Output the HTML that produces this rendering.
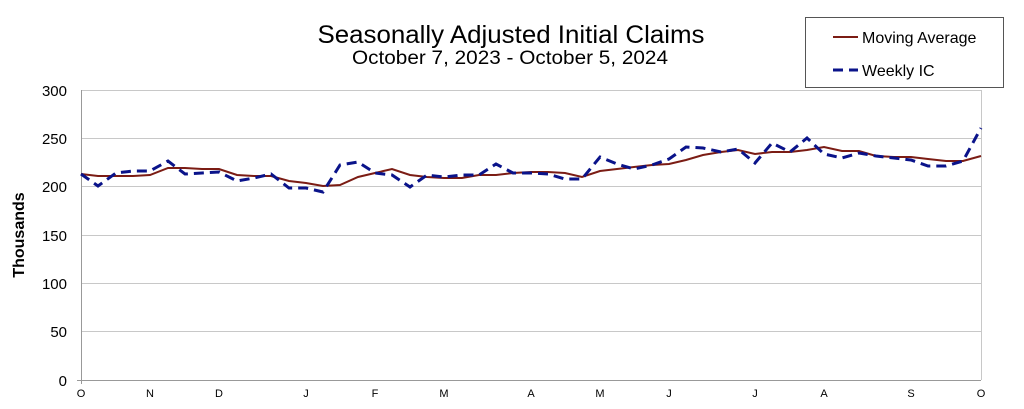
<!DOCTYPE html>
<html><head><meta charset="utf-8"><style>
body{margin:0;background:#fff;}
svg text{font-family:"Liberation Sans",sans-serif;fill:#000;}
</style></head><body>
<svg width="1024" height="404" viewBox="0 0 1024 404" xmlns="http://www.w3.org/2000/svg">
<text x="511" y="43" font-size="25" text-anchor="middle" textLength="387" lengthAdjust="spacingAndGlyphs">Seasonally Adjusted Initial Claims</text>
<text x="510" y="64" font-size="19" text-anchor="middle" textLength="316" lengthAdjust="spacingAndGlyphs">October 7, 2023 - October 5, 2024</text>
<rect x="805.5" y="17.5" width="198" height="70" fill="#fff" stroke="#555" stroke-width="1"/>
<line x1="833" y1="37" x2="858" y2="37" stroke="#7b1c14" stroke-width="2"/>
<text x="862" y="43" font-size="16">Moving Average</text>
<line x1="833" y1="70" x2="858" y2="70" stroke="#0a138a" stroke-width="3" stroke-dasharray="10,6"/>
<text x="862" y="76" font-size="16">Weekly IC</text>
<g stroke="#c8c8c8" stroke-width="1">
<line x1="81" y1="90.5" x2="981" y2="90.5"/>
<line x1="81" y1="138.5" x2="981" y2="138.5"/>
<line x1="81" y1="186.5" x2="981" y2="186.5"/>
<line x1="81" y1="235.5" x2="981" y2="235.5"/>
<line x1="81" y1="283.5" x2="981" y2="283.5"/>
<line x1="81" y1="331.5" x2="981" y2="331.5"/>
<line x1="981.5" y1="90" x2="981.5" y2="380"/>
</g>
<line x1="81.5" y1="90" x2="81.5" y2="384" stroke="#999"/>
<line x1="77" y1="380.5" x2="981" y2="380.5" stroke="#999"/>
<g font-size="15" text-anchor="end">
<text x="67" y="96">300</text><text x="67" y="144">250</text><text x="67" y="192">200</text>
<text x="67" y="241">150</text><text x="67" y="289">100</text><text x="67" y="337">50</text><text x="67" y="386">0</text>
</g>
<text transform="translate(24,235) rotate(-90)" font-size="16" font-weight="bold" text-anchor="middle">Thousands</text>
<g font-size="11" text-anchor="middle">
<text x="81" y="397">O</text><text x="150" y="397">N</text><text x="219" y="397">D</text><text x="306" y="397">J</text>
<text x="375" y="397">F</text><text x="444" y="397">M</text><text x="531" y="397">A</text><text x="600" y="397">M</text>
<text x="669" y="397">J</text><text x="755" y="397">J</text><text x="824" y="397">A</text><text x="911" y="397">S</text><text x="981" y="397">O</text>
</g>
<polyline fill="none" stroke="#7b1c14" stroke-width="2" points="81,174 98,176 116,176 133,176 150,175 168,168 185,168 202,169 219,169 237,175 254,176 271,176 289,181 306,183 323,186 340,185 358,177 375,173 392,169 410,175 427,177 444,178 462,178 479,175 496,175 513,173 531,172 548,172 565,173 582,177 600,171 617,169 634,167 652,165 669,164 686,160 703,155 721,152 738,150 755,154 772,152 790,152 807,150 824,147 842,151 859,151 876,156 894,157 911,157 928,159 946,161 963,161 981,156"/>
<polyline fill="none" stroke="#0a138a" stroke-width="3" stroke-dasharray="10,6" points="81,174 98,186 116,173 133,171 150,171 168,161 185,174 202,173 219,172 237,181 254,178 271,174 289,188 306,188 323,192 340,165 358,162 375,173 392,175 410,187 427,175 444,177 462,175 479,175 496,164 513,173 531,173 548,174 565,179 582,179 600,157 617,164 634,169 652,165 669,159 686,147 703,148 721,152 738,149 755,163 772,143 790,152 807,138 824,154 842,158 859,153 876,156 894,158 911,160 928,166 946,166 963,161 981,128"/>
</svg>
</body></html>
